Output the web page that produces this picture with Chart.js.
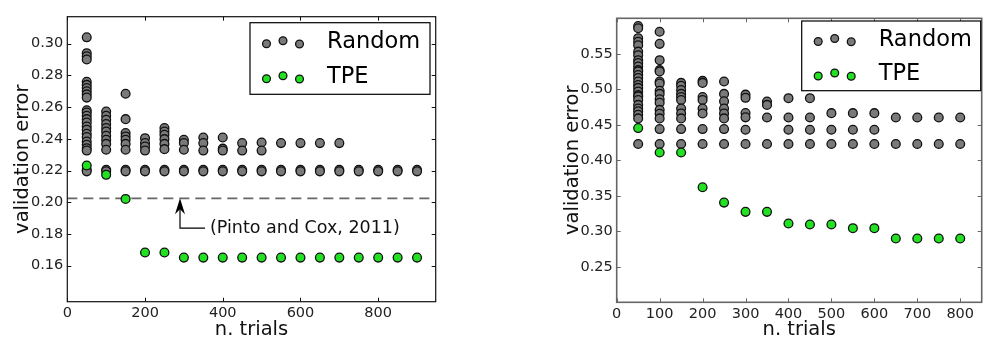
<!DOCTYPE html>
<html><head><meta charset="utf-8">
<script src="https://cdn.jsdelivr.net/npm/chart.js@4/dist/chart.umd.min.js"></script>
<style>
html,body{margin:0;padding:0;background:#fff;width:1007px;height:357px;overflow:hidden}
.wrap{position:absolute;top:0;height:357px}
</style></head><body>
<div class="wrap" style="left:0;width:500px"><canvas id="c1" width="500" height="357"></canvas></div>
<div class="wrap" style="left:500px;width:507px"><canvas id="c2" width="507" height="357"></canvas></div>
<script>
// ---------------- data ----------------
const seriesNames = ["Random", "TPE"];
const xTitle = "n. trials";
const yTitle = "validation error";

// left panel
const leftTrials = [50,100,150,200,250,300,350,400,450,500,550,600,650,700,750,800,850,900];
const leftRandom = [
  [0.304,0.294,0.292,0.290,0.276,0.274,0.272,0.270,0.268,0.266,0.258,0.2566,0.2545,0.2524,0.2503,0.2478,0.2457,0.2432,0.2411,0.2383,0.2362,0.2341,0.2326,0.2205,0.2195],
  [0.2572,0.2545,0.252,0.2493,0.2468,0.2446,0.2419,0.2394,0.2368,0.2331,0.2205,0.2195],
  [0.2684,0.2524,0.2436,0.2415,0.2394,0.2368,0.2331,0.2205,0.2195],
  [0.2404,0.2373,0.2351,0.2326,0.2205,0.2195],
  [0.2468,0.2446,0.2425,0.2398,0.2368,0.2335,0.2205,0.2195],
  [0.2394,0.2373,0.2331,0.2205,0.2195],
  [0.2408,0.2373,0.2326,0.2205,0.2195],
  [0.2408,0.2338,0.2326,0.2205,0.2195],
  [0.2373,0.2326,0.2205,0.2195],
  [0.2377,0.2326,0.2205,0.2195],
  [0.2373,0.2205,0.2195],
  [0.2373,0.2205,0.2195],
  [0.2373,0.2205,0.2195],
  [0.2373,0.2205,0.2195],
  [0.2205,0.2195],
  [0.2205,0.2195],
  [0.2205,0.2195],
  [0.2205,0.2195]
];
const leftTPE = [0.2232,0.2173,0.2021,0.1683,0.1683,0.1651,0.1651,0.1651,0.1651,0.1651,0.1651,0.1651,0.1651,0.1651,0.1651,0.1651,0.1651,0.1651];
const leftXTicks = [0,200,400,600,800];
const leftYTicks = [0.16,0.18,0.20,0.22,0.24,0.26,0.28,0.30];
const pintoCox = 0.2025;
const pintoCoxLabel = "(Pinto and Cox, 2011)";
const pintoCoxArrowX = 290;
const pintoCoxLabelY = 0.1837;

// right panel
const rightTrials = [50,100,150,200,250,300,350,400,450,500,550,600,650,700,750,800];
const rightRandom = [
  [0.589,0.586,0.572,0.567,0.562,0.553,0.548,0.541,0.537,0.532,0.527,0.525,0.520,0.516,0.511,0.506,0.502,0.497,0.492,0.490,0.485,0.478,0.473,0.469,0.464,0.459,0.423],
  [0.581,0.564,0.541,0.527,0.525,0.511,0.508,0.498,0.4935,0.486,0.481,0.471,0.4655,0.459,0.444,0.423],
  [0.509,0.505,0.499,0.4935,0.489,0.485,0.473,0.466,0.459,0.444,0.423],
  [0.5118,0.509,0.489,0.485,0.473,0.466,0.444,0.423],
  [0.511,0.4935,0.483,0.473,0.466,0.459,0.444,0.423],
  [0.4925,0.488,0.4665,0.4605,0.443,0.423],
  [0.4828,0.478,0.4603,0.423],
  [0.4875,0.4603,0.443,0.423],
  [0.4875,0.4603,0.443,0.423],
  [0.4664,0.443,0.423],
  [0.4664,0.443,0.423],
  [0.4664,0.443,0.423],
  [0.4603,0.423],
  [0.4603,0.423],
  [0.4603,0.423],
  [0.4603,0.423]
];
const rightTPE = [0.4454,0.411,0.411,0.362,0.3404,0.3274,0.3274,0.311,0.3096,0.3096,0.3044,0.3044,0.2899,0.2899,0.2899,0.2899];
const rightXTicks = [0,100,200,300,400,500,600,700,800];
const rightYTicks = [0.25,0.30,0.35,0.40,0.45,0.50,0.55];

// ---------------- styling ----------------
const GREY = '#7a7a7a';
const GREEN = '#22e022';
const FONT = '"DejaVu Sans", "Liberation Sans", sans-serif';

function columnsToPoints(trials, cols) {
  const pts = [];
  trials.forEach((t, i) => cols[i].forEach(v => pts.push({x: t, y: v})));
  return pts;
}
function seriesToPoints(trials, vals) { return trials.map((t, i) => ({x: t, y: vals[i]})); }

function drawMarker(ctx, x, y, r, fill) {
  ctx.beginPath(); ctx.arc(x, y, r, 0, Math.PI * 2);
  ctx.fillStyle = fill; ctx.fill();
  ctx.lineWidth = 1.3; ctx.strokeStyle = '#111'; ctx.stroke();
}

const framePlugin = {
  id: 'frame',
  afterDatasetsDraw(chart, args, o) {
    const {ctx, chartArea: a, scales: {x, y}} = chart;
    ctx.save();
    // inner ticks
    const L = 4;
    ctx.strokeStyle = o.color; ctx.lineWidth = 1;
    ctx.beginPath();
    o.xTicks.forEach(v => {
      const p = Math.round(x.getPixelForValue(v)) + 0.5;
      ctx.moveTo(p, a.bottom); ctx.lineTo(p, a.bottom - L);
      ctx.moveTo(p, a.top); ctx.lineTo(p, a.top + L);
    });
    o.yTicks.forEach(v => {
      const p = Math.round(y.getPixelForValue(v)) + 0.5;
      ctx.moveTo(a.left, p); ctx.lineTo(a.left + L, p);
      ctx.moveTo(a.right, p); ctx.lineTo(a.right - L, p);
    });
    ctx.stroke();
    ctx.lineWidth = o.width;
    ctx.strokeRect(a.left, a.top, a.right - a.left, a.bottom - a.top);

    // annotation
    if (o.annotation) {
      const an = o.annotation;
      const ax = x.getPixelForValue(an.x);
      const tipY = y.getPixelForValue(an.y);
      const elbowY = y.getPixelForValue(an.labelY);
      ctx.strokeStyle = '#000'; ctx.lineWidth = 1.2;
      ctx.beginPath();
      ctx.moveTo(ax, tipY + 10); ctx.lineTo(ax, elbowY); ctx.lineTo(ax + 25, elbowY);
      ctx.stroke();
      ctx.fillStyle = '#000';
      ctx.beginPath();
      ctx.moveTo(ax, tipY); ctx.lineTo(ax - 5, tipY + 16); ctx.lineTo(ax, tipY + 11); ctx.lineTo(ax + 5, tipY + 16);
      ctx.closePath(); ctx.fill();
      ctx.font = '17.5px ' + FONT; ctx.fillStyle = '#111';
      ctx.textBaseline = 'middle'; ctx.textAlign = 'left';
      ctx.fillText(an.text, ax + 30, elbowY);
    }

    // legend
    const lg = o.legend;
    const bx = a.right - lg.dx - lg.w, by = a.top + lg.dy;
    ctx.fillStyle = '#fff'; ctx.fillRect(bx, by, lg.w, lg.h);
    ctx.strokeStyle = '#000'; ctx.lineWidth = 1.2;
    ctx.strokeRect(bx, by, lg.w, lg.h);
    const cols = [GREY, GREEN];
    seriesNames.forEach((name, i) => {
      const ry = by + lg.rows[i];
      drawMarker(ctx, bx + 16.5, ry + 1, 3.9, cols[i]);
      drawMarker(ctx, bx + 33, ry - 2, 3.9, cols[i]);
      drawMarker(ctx, bx + 49.5, ry + 1.3, 3.9, cols[i]);
      ctx.font = '22.5px ' + FONT; ctx.fillStyle = '#000';
      ctx.textBaseline = 'middle'; ctx.textAlign = 'left';
      ctx.fillText(name, bx + 77, ry - 0.5);
    });
    ctx.restore();
  }
};

function makeChart(id, cfg) {
  const datasets = [
    {label: seriesNames[1], data: seriesToPoints(cfg.trials, cfg.tpe), backgroundColor: GREEN, borderColor: '#111',
     borderWidth: 1.3, pointRadius: 4.4, order: 0},
    {label: seriesNames[0], data: columnsToPoints(cfg.trials, cfg.random), backgroundColor: GREY, borderColor: '#111',
     borderWidth: 1.3, pointRadius: 4.4, order: 1}
  ];
  if (cfg.refLine !== undefined) {
    datasets.push({type: 'line', label: 'ref', data: [{x: cfg.xMin, y: cfg.refLine}, {x: cfg.xMax, y: cfg.refLine}],
      borderColor: '#666', borderWidth: 1.8, borderDash: [10, 6], pointRadius: 0, order: 2});
  }
  const tickFont = {family: FONT, size: 14.5};
  const titleFont = {family: FONT, size: 19.5};
  return new Chart(document.getElementById(id), {
    type: 'scatter',
    data: {datasets},
    options: {
      responsive: false, animation: false,
      layout: {padding: {left: cfg.padL, top: cfg.padT, right: cfg.padR, bottom: 0}},
      plugins: {
        legend: {display: false}, tooltip: {enabled: false},
        frame: {color: cfg.frameColor, width: cfg.frameWidth, xTicks: cfg.xTicks, yTicks: cfg.yTicks,
                legend: cfg.legend, annotation: cfg.annotation}
      },
      scales: {
        x: {
          type: 'linear', min: cfg.xMin, max: cfg.xMax,
          grid: {display: false, drawTicks: false}, border: {display: false},
          ticks: {font: tickFont, color: '#222', padding: 3, autoSkip: false, maxRotation: 0, callback: v => String(v)},
          afterBuildTicks: s => { s.ticks = cfg.xTicks.map(v => ({value: v})); },
          afterFit: s => { s.height = cfg.xH; },
          title: {display: true, text: xTitle, font: titleFont, color: '#111', padding: {top: 0, bottom: 15}}
        },
        y: {
          type: 'linear', min: cfg.yMin, max: cfg.yMax,
          grid: {display: false, drawTicks: false}, border: {display: false},
          ticks: {font: tickFont, color: '#222', padding: 4, autoSkip: false, callback: v => Number(v).toFixed(2)},
          afterBuildTicks: s => { s.ticks = cfg.yTicks.map(v => ({value: v})); },
          afterFit: s => { s.width = cfg.yW; },
          title: {display: true, text: yTitle, font: titleFont, color: '#111', padding: {top: 11, bottom: 0}}
        }
      }
    },
    plugins: [framePlugin]
  });
}

makeChart('c1', {
  trials: leftTrials, random: leftRandom, tpe: leftTPE,
  xTicks: leftXTicks, yTicks: leftYTicks,
  xMin: 0, xMax: 948, yMin: 0.1373, yMax: 0.317,
  padL: 0, padT: 16.7, padR: 64.3, yW: 67.3, xH: 55.3,
  frameColor: '#111', frameWidth: 1.2,
  refLine: pintoCox,
  annotation: {x: pintoCoxArrowX, y: pintoCox, labelY: pintoCoxLabelY, text: pintoCoxLabel},
  legend: {dx: 5.7, dy: 6, w: 180, h: 71.6, rows: [20, 55]}
});
makeChart('c2', {
  trials: rightTrials, random: rightRandom, tpe: rightTPE,
  xTicks: rightXTicks, yTicks: rightYTicks,
  xMin: 0, xMax: 850, yMin: 0.20, yMax: 0.60,
  padL: 50, padT: 18.3, padR: 25.3, yW: 66.7, xH: 54.7,
  frameColor: '#666', frameWidth: 1.6,
  legend: {dx: 1, dy: 2.7, w: 179, h: 69.7, rows: [19.5, 54]}
});
</script>
</body></html>
